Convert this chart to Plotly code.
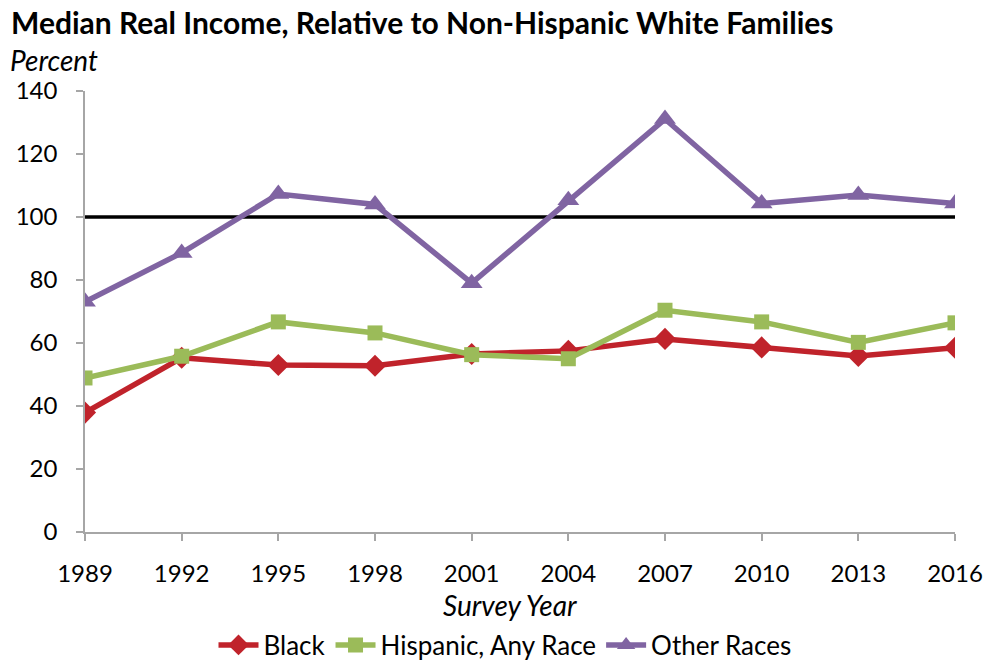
import plotly.graph_objects as go

years = [1989, 1992, 1995, 1998, 2001, 2004, 2007, 2010, 2013, 2016]
black = [37.9, 55.3, 53.0, 52.8, 56.5, 57.5, 61.3, 58.6, 55.9, 58.5]
hispanic = [48.9, 55.8, 66.7, 63.2, 56.3, 55.0, 70.4, 66.7, 60.2, 66.4]
other = [73.1, 88.6, 107.3, 104.0, 79.0, 105.3, 131.1, 104.3, 107.0, 104.3]
parity = [100, 100]
parity_years = [1989, 2016]
y_ticks = [0, 20, 40, 60, 80, 100, 120, 140]

FONT = "Lato"
L, R, T, B = 85, 33, 91, 131
PW, PH = 988 - L - R, 663 - T - B


def px_x(x):
    return (x - L) / PW


def px_y(y):
    return (663 - B - y) / PH


fig = go.Figure()
fig.add_trace(go.Scatter(x=parity_years, y=parity, mode="lines",
                         line=dict(color="black", width=3.5), showlegend=False,
                         hoverinfo="skip"))
fig.add_trace(go.Scatter(x=years, y=black, name="Black", mode="lines+markers",
                         line=dict(color="#C0232B", width=5.5),
                         marker=dict(symbol="diamond", size=17, color="#C0232B")))
fig.add_trace(go.Scatter(x=years, y=hispanic, name="Hispanic, Any Race", mode="lines+markers",
                         line=dict(color="#9BBB59", width=5.5),
                         marker=dict(symbol="square", size=15, color="#9BBB59")))
fig.add_trace(go.Scatter(x=years, y=other, name="Other Races", mode="lines+markers",
                         line=dict(color="#8064A2", width=5.5),
                         marker=dict(symbol="triangle-up", size=19, color="#8064A2")))

fig.update_layout(
    width=988, height=663,
    margin=dict(l=L, r=R, t=T, b=B, autoexpand=False),
    paper_bgcolor="white", plot_bgcolor="white",
    font=dict(family=FONT, size=23, color="black"),
    showlegend=True,
    legend=dict(orientation="h", x=px_x(505), xanchor="center", y=px_y(645), yanchor="middle",
                font=dict(family=FONT, size=26), itemwidth=40, traceorder="normal",
                tracegroupgap=0),
    annotations=[
        dict(text="<b>Median Real Income, Relative to Non-Hispanic White Families</b>",
             xref="paper", yref="paper", x=px_x(9), y=px_y(22), xanchor="left", yanchor="middle",
             showarrow=False, font=dict(family=FONT, size=30)),
        dict(text="<i>Percent</i>", xref="paper", yref="paper", x=px_x(8), y=px_y(60),
             xanchor="left", yanchor="middle", showarrow=False, font=dict(family=FONT, size=28)),
        dict(text="<i>Survey Year</i>", xref="paper", yref="paper", x=px_x(510), y=px_y(605),
             xanchor="center", yanchor="middle", showarrow=False, font=dict(family=FONT, size=28)),
    ],
)
fig.update_xaxes(range=[1989, 2016], tickvals=years, ticktext=[str(y) for y in years],
                 showgrid=False, zeroline=False, showline=True, linecolor="#A6A6A6", linewidth=1.5,
                 ticks="outside", ticklen=7, tickcolor="#A6A6A6", tickwidth=1.5,
                 ticklabelstandoff=12, automargin=False,
                 tickfont=dict(family=FONT, size=24))
fig.update_yaxes(range=[0, 140], tickvals=y_ticks, showgrid=False, zeroline=False,
                 showline=True, linecolor="#A6A6A6", linewidth=1.5,
                 ticks="outside", ticklen=7, tickcolor="#A6A6A6", tickwidth=1.5,
                 ticklabelstandoff=14, automargin=False,
                 tickfont=dict(family=FONT, size=24))

fig.write_html("out.html")
